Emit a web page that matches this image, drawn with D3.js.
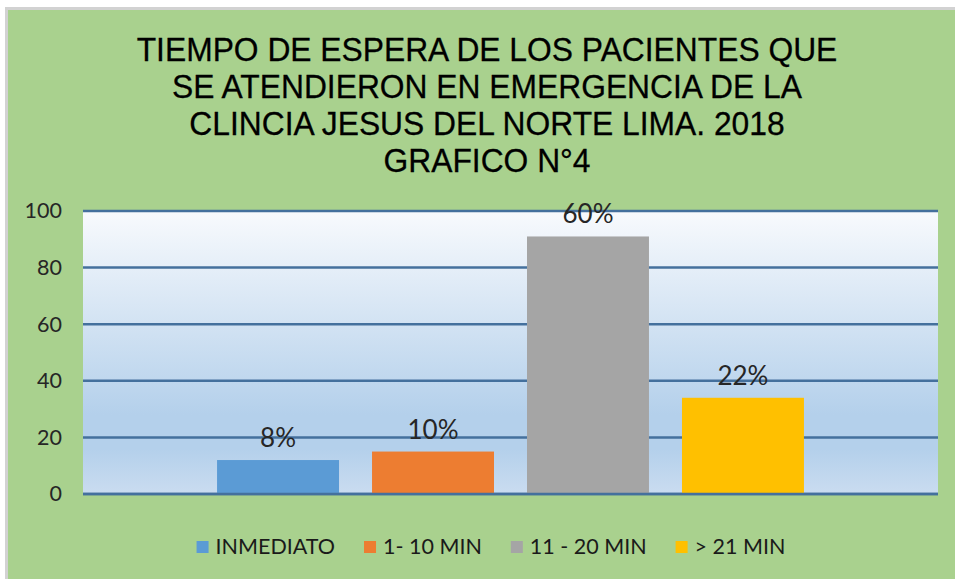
<!DOCTYPE html>
<html>
<head>
<meta charset="utf-8">
<script src="https://cdn.jsdelivr.net/npm/d3@7"></script>
<style>
  html, body { margin: 0; padding: 0; background: #fff; }
  svg { display: block; }
</style>
</head>
<body>
<svg id="chart" width="955" height="579"></svg>
<script>
var titleLines = ["TIEMPO DE ESPERA DE LOS PACIENTES QUE", "SE ATENDIERON EN EMERGENCIA DE LA", "CLINCIA JESUS DEL NORTE LIMA. 2018", "GRAFICO N°4"];
var series = ["INMEDIATO", "1- 10 MIN", "11 - 20 MIN", "> 21 MIN"];
var counts = [12, 15, 91, 34];
var labels = ["8%", "10%", "60%", "22%"];
var colors = ["#5b9bd5", "#ed7d31", "#a5a5a5", "#ffc000"];
var yTicks = [0, 20, 40, 60, 80, 100];

var svg = d3.select("#chart");
var W = 955, H = 579;
var margin = {top: 211, right: 17, bottom: 85, left: 83};
var plotW = W - margin.left - margin.right;
var plotH = H - margin.top - margin.bottom;

// chart background with the grey frame on top/left
svg.append("rect")
    .attr("x", 6.5).attr("y", 8.5)
    .attr("width", W).attr("height", H)
    .attr("fill", "#a9d18e")
    .attr("stroke", "#d2d2d2")
    .attr("stroke-width", 3);

// title
var title = svg.append("g")
    .attr("transform", "translate(487,0) scale(0.935,1)");
title.selectAll("text")
    .data(titleLines)
    .enter()
    .append("text")
    .attr("x", 0)
    .attr("y", function (d, i) { return 61 + i * 37; })
    .attr("text-anchor", "middle")
    .style("font-family", "'Liberation Sans', Arial, sans-serif")
    .style("font-size", "34px")
    .attr("fill", "#000")
    .attr("stroke", "#000")
    .attr("stroke-width", 0.3)
    .text(function (d) { return d; });

var defs = svg.append("defs");
var grad = defs.append("linearGradient")
    .attr("id", "plotGrad")
    .attr("x1", 0).attr("y1", 0).attr("x2", 0).attr("y2", 1);
grad.append("stop").attr("offset", "0").attr("stop-color", "#f8fafd");
grad.append("stop").attr("offset", "0.72").attr("stop-color", "#b4d0eb");
grad.append("stop").attr("offset", "0.84").attr("stop-color", "#b4d0eb");
grad.append("stop").attr("offset", "1").attr("stop-color", "#cadcf0");

var g = svg.append("g").attr("transform", "translate(" + margin.left + "," + margin.top + ")");

g.append("rect")
    .attr("width", plotW).attr("height", plotH)
    .attr("fill", "url(#plotGrad)");

var y = d3.scaleLinear().domain([0, 100]).range([plotH, 0]);

// one category, four series side by side
var x = d3.scaleBand()
    .domain(series)
    .range([0, plotW])
    .paddingInner(0.213)
    .paddingOuter(0.865);

// gridlines
g.selectAll(".grid")
    .data(yTicks)
    .enter()
    .append("line")
    .attr("class", "grid")
    .attr("x1", 0).attr("x2", plotW)
    .attr("y1", function (d) { return y(d); })
    .attr("y2", function (d) { return y(d); })
    .attr("stroke", "#44709d")
    .attr("stroke-width", 2.5);

// y axis labels
var yAxis = d3.axisLeft(y).tickValues(yTicks).tickSize(0).tickPadding(21);
var ax = g.append("g").call(yAxis);
ax.select(".domain").remove();
ax.selectAll("text")
    .style("font-family", "Lato, 'Open Sans', sans-serif")
    .style("font-size", "21.5px")
    .attr("fill", "#262626");

// bars
g.selectAll(".bar")
    .data(counts)
    .enter()
    .append("rect")
    .attr("class", "bar")
    .attr("x", function (d, i) { return x(series[i]); })
    .attr("y", function (d) { return y(d); })
    .attr("width", x.bandwidth())
    .attr("height", function (d) { return y(0) - y(d); })
    .attr("fill", function (d, i) { return colors[i]; });

// baseline over the bars
g.append("line")
    .attr("x1", 0).attr("x2", plotW)
    .attr("y1", y(0)).attr("y2", y(0))
    .attr("stroke", "#44709d")
    .attr("stroke-width", 2.5);

// data labels
g.selectAll(".lbl")
    .data(counts)
    .enter()
    .append("text")
    .attr("class", "lbl")
    .attr("x", function (d, i) { return x(series[i]) + x.bandwidth() / 2; })
    .attr("y", function (d) { return y(d) - 13; })
    .attr("text-anchor", "middle")
    .style("font-family", "Lato, 'Open Sans', sans-serif")
    .style("font-size", "26px")
    .attr("fill", "#262626")
    .text(function (d, i) { return labels[i]; });

// legend
var legend = svg.append("g");
var items = legend.selectAll("g")
    .data(series)
    .enter()
    .append("g");
items.append("rect")
    .attr("width", 12).attr("height", 12)
    .attr("y", -13)
    .attr("fill", function (d, i) { return colors[i]; });
items.append("text")
    .attr("x", 19)
    .style("font-family", "Lato, 'Open Sans', sans-serif")
    .style("font-size", "21.5px")
    .attr("fill", "#1a1a1a")
    .text(function (d) { return d; });

var offset = 0;
items.each(function () {
    var w = this.querySelector("text").getComputedTextLength() + 19;
    d3.select(this).attr("transform", "translate(" + offset + ",0)");
    offset += w + 29;
});
var legendW = offset - 29;
legend.attr("transform", "translate(" + (491 - legendW / 2) + ",554)");
</script>
</body>
</html>
